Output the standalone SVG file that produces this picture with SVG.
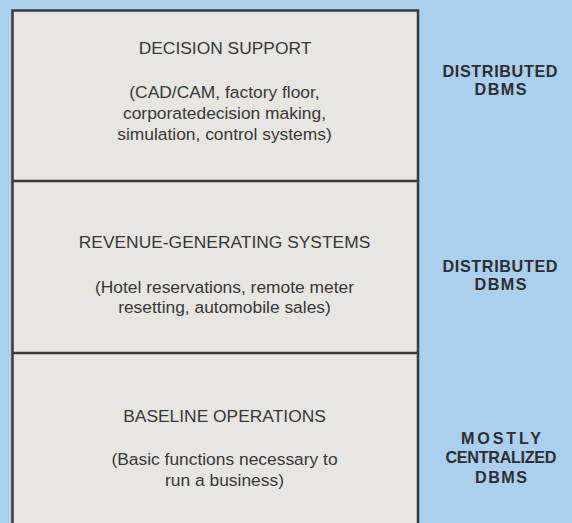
<svg xmlns="http://www.w3.org/2000/svg" width="572" height="523" viewBox="0 0 572 523">
<style>
.t{font-family:"Liberation Sans",Arial,sans-serif;font-size:17.4px;fill:#383838;text-anchor:middle}
.b{font-family:"Liberation Sans",Arial,sans-serif;font-size:16.2px;font-weight:bold;fill:#2e2e35;text-anchor:middle}
.div{stroke:#3a3a3a;stroke-width:2.5;fill:none}
</style>
<rect x="0" y="0" width="572" height="523" fill="#aad0ee"/>
<g id="box">
<rect x="12.5" y="10.5" width="405.5" height="520" fill="#e7e6e3" stroke="#3a3a3a" stroke-width="2.5"/>
</g>
<g id="connectors">
<line class="div" x1="12.5" y1="181" x2="418" y2="181"/>
<line class="div" x1="12.5" y1="353" x2="418" y2="353"/>
</g>
<g id="decision-support">
<text class="t" x="225" y="54">DECISION SUPPORT</text>
<text class="t" x="224.5" y="98">(CAD/CAM, factory floor,</text>
<text class="t" x="224.5" y="119">corporatedecision making,</text>
<text class="t" x="224.5" y="140">simulation, control systems)</text>
</g>
<g id="revenue-generating">
<text class="t" x="224.5" y="248">REVENUE-GENERATING SYSTEMS</text>
<text class="t" x="224.5" y="293">(Hotel reservations, remote meter</text>
<text class="t" x="224.5" y="313">resetting, automobile sales)</text>
</g>
<g id="baseline-operations">
<text class="t" x="224.5" y="422">BASELINE OPERATIONS</text>
<text class="t" x="224.5" y="465">(Basic functions necessary to</text>
<text class="t" x="224.5" y="486">run a business)</text>
</g>
<g id="label-1">
<text class="b" x="500" y="77" textLength="115">DISTRIBUTED</text>
<text class="b" x="500.5" y="95" textLength="52">DBMS</text>
</g>
<g id="label-2">
<text class="b" x="500" y="272" textLength="115">DISTRIBUTED</text>
<text class="b" x="500.5" y="290" textLength="52">DBMS</text>
</g>
<g id="label-3">
<text class="b" x="501" y="444" textLength="80">MOSTLY</text>
<text class="b" x="501" y="463" textLength="111">CENTRALIZED</text>
<text class="b" x="501" y="483" textLength="52">DBMS</text>
</g>
</svg>
